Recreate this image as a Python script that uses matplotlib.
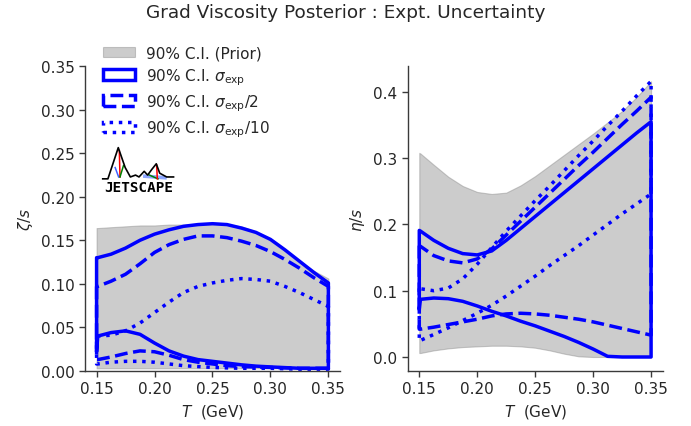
import numpy as np
import matplotlib
matplotlib.use("Agg")
import matplotlib.pyplot as plt
from matplotlib.patches import Patch

T = [0.15, 0.151, 0.1625, 0.175, 0.1875, 0.20, 0.2125, 0.225, 0.2375, 0.25,
     0.2625, 0.275, 0.2875, 0.30, 0.3125, 0.325, 0.3375, 0.35]

# zeta/s
zeta_prior_hi = [0.164, 0.164, 0.165, 0.166, 0.167, 0.167, 0.168, 0.168, 0.169, 0.169,
                 0.168, 0.166, 0.160, 0.151, 0.139, 0.126, 0.115, 0.106]
zeta_prior_lo = [0.003] * 18
zeta_s1_hi = [0.130, 0.130, 0.134, 0.141, 0.150, 0.157, 0.162, 0.166, 0.168, 0.169,
              0.168, 0.164, 0.159, 0.151, 0.139, 0.126, 0.113, 0.101]
zeta_s1_lo = [0.022, 0.040, 0.044, 0.046, 0.042, 0.032, 0.023, 0.017, 0.013, 0.011,
              0.009, 0.007, 0.0055, 0.0046, 0.0038, 0.003, 0.003, 0.003]
zeta_s2_hi = [0.097, 0.097, 0.103, 0.111, 0.123, 0.136, 0.145, 0.151, 0.155, 0.155,
              0.153, 0.149, 0.144, 0.137, 0.128, 0.118, 0.107, 0.097]
zeta_s2_lo = [0.013, 0.013, 0.016, 0.020, 0.023, 0.022, 0.018, 0.013, 0.010, 0.008,
              0.006, 0.005, 0.0045, 0.004, 0.0035, 0.003, 0.003, 0.003]
zeta_s10_hi = [0.040, 0.040, 0.041, 0.046, 0.055, 0.067, 0.079, 0.090, 0.097, 0.101,
               0.104, 0.106, 0.105, 0.103, 0.097, 0.090, 0.082, 0.074]
zeta_s10_lo = [0.008, 0.008, 0.010, 0.011, 0.011, 0.010, 0.008, 0.006, 0.005, 0.004,
               0.0035, 0.003, 0.003, 0.003, 0.0025, 0.002, 0.002, 0.002]

# eta/s
eta_prior_hi = [0.308, 0.307, 0.290, 0.272, 0.258, 0.249, 0.246, 0.248, 0.259, 0.273,
                0.289, 0.305, 0.321, 0.337, 0.354, 0.371, 0.392, 0.416]
eta_prior_lo = [0.006, 0.006, 0.010, 0.013, 0.015, 0.016, 0.017, 0.017, 0.016, 0.014,
                0.010, 0.005, 0.001, 0.0, 0.0, 0.0, 0.0, 0.0]
eta_s1_hi = [0.191, 0.190, 0.176, 0.164, 0.156, 0.154, 0.160, 0.176, 0.194, 0.212,
             0.230, 0.248, 0.266, 0.284, 0.302, 0.320, 0.338, 0.355]
eta_s1_lo = [0.072, 0.087, 0.089, 0.088, 0.084, 0.077, 0.069, 0.062, 0.054, 0.047,
             0.039, 0.031, 0.022, 0.012, 0.001, 0.0, 0.0, 0.0]
eta_s2_hi = [0.168, 0.167, 0.153, 0.145, 0.142, 0.148, 0.163, 0.184, 0.205, 0.226,
             0.247, 0.268, 0.289, 0.309, 0.330, 0.351, 0.371, 0.392]
eta_s2_lo = [0.042, 0.042, 0.045, 0.049, 0.053, 0.057, 0.062, 0.065, 0.066, 0.065,
             0.063, 0.060, 0.057, 0.053, 0.048, 0.043, 0.038, 0.033]
eta_s10_hi = [0.1035, 0.103, 0.100, 0.104, 0.118, 0.140, 0.165, 0.190, 0.213, 0.236,
              0.258, 0.281, 0.304, 0.326, 0.349, 0.371, 0.394, 0.416]
eta_s10_lo = [0.024, 0.025, 0.034, 0.044, 0.055, 0.066, 0.078, 0.092, 0.107, 0.122,
              0.138, 0.153, 0.168, 0.184, 0.200, 0.216, 0.231, 0.246]

x_ticks = [0.15, 0.20, 0.25, 0.30, 0.35]
legend_labels = ["90% C.I. (Prior)", r"90% C.I. $\sigma_{\rm exp}$",
                 r"90% C.I. $\sigma_{\rm exp}/2$", r"90% C.I. $\sigma_{\rm exp}/10$"]

plt.rcParams['font.family'] = 'DejaVu Sans'
plt.rcParams['mathtext.fontset'] = 'dejavusans'
txtc = '#262626'
spc = '#3a3a3a'
BLUE = '#0000ff'
fs = 11

fig = plt.figure(figsize=(6.91, 4.27), dpi=100)
ax1 = fig.add_axes([0.123, 0.129, 0.369, 0.714])
ax2 = fig.add_axes([0.590, 0.129, 0.369, 0.714])

styles = [('-', 2.5), ('--', 2.5), (':', 2.5)]


def draw(ax, prior, bands):
    ax.fill_between(T, prior[1], prior[0], facecolor='gray', alpha=0.4,
                    edgecolor='gray', linewidth=0.8)
    for (hi, lo), (ls, lw) in zip(bands, styles):
        ax.fill_between(T, lo, hi, facecolor='none', edgecolor=BLUE,
                        linestyle=ls, linewidth=lw)
    for s in ['top', 'right']:
        ax.spines[s].set_visible(False)
    for s in ['left', 'bottom']:
        ax.spines[s].set_color(spc)
        ax.spines[s].set_linewidth(1.0)
    ax.tick_params(direction='out', length=4, width=1.0, color=spc,
                   labelsize=fs, labelcolor=txtc)
    ax.set_xticks(x_ticks)
    ax.set_xticklabels([f"{v:.2f}" for v in x_ticks])
    ax.set_xlim(0.14, 0.36)
    ax.set_xlabel(r"$T$  (GeV)", fontsize=fs, color=txtc)


draw(ax1, (zeta_prior_hi, zeta_prior_lo),
     [(zeta_s1_hi, zeta_s1_lo), (zeta_s2_hi, zeta_s2_lo), (zeta_s10_hi, zeta_s10_lo)])
draw(ax2, (eta_prior_hi, eta_prior_lo),
     [(eta_s1_hi, eta_s1_lo), (eta_s2_hi, eta_s2_lo), (eta_s10_hi, eta_s10_lo)])

ax1.set_ylim(0, 0.35)
ax1.set_yticks([0, 0.05, 0.10, 0.15, 0.20, 0.25, 0.30, 0.35])
ax1.set_yticklabels([f"{v:.2f}" for v in ax1.get_yticks()])
ax1.set_ylabel(r"$\zeta/s$", fontsize=fs, color=txtc)
ax2.set_ylim(-0.021, 0.439)
ax2.set_yticks([0.0, 0.1, 0.2, 0.3, 0.4])
ax2.set_yticklabels([f"{v:.1f}" for v in ax2.get_yticks()])
ax2.set_ylabel(r"$\eta/s$", fontsize=fs, color=txtc)

handles = [Patch(facecolor='gray', alpha=0.4, edgecolor='gray', linewidth=0.8)]
for ls, lw in styles:
    handles.append(Patch(facecolor='none', edgecolor=BLUE, linestyle=ls, linewidth=lw))
leg = ax1.legend(handles, legend_labels, loc='upper left', bbox_to_anchor=(0.045, 1.088),
                 frameon=False, fontsize=fs, labelspacing=0.37, handlelength=2.1,
                 handletextpad=0.75, borderaxespad=0.0)
for t in leg.get_texts():
    t.set_color(txtc)

fig.suptitle("Grad Viscosity Posterior : Expt. Uncertainty", fontsize=13.3,
             color=txtc, y=0.99)

# JETSCAPE logo (drawn)
lax = fig.add_axes([101 / 691, 1 - 193 / 427, 76 / 691, 47 / 427])
lax.set_xlim(25, 245)
lax.set_ylim(140, 15)
lax.axis('off')
px = [30, 45, 75, 95, 110, 125, 135, 150, 160, 172, 185, 195, 215, 235]
py = [105, 105, 22, 75, 100, 95, 100, 85, 95, 80, 65, 90, 100, 100]
lax.plot([80, 78], [100, 30], color='red', lw=1.1)
lax.plot([66, 76], [75, 100], color='#4060ff', lw=1.1)
lax.plot([90, 80], [70, 100], color='green', lw=1.1)
lax.plot([152, 210], [98, 102], color='#7090ff', lw=2.6, alpha=0.8)
lax.plot([165, 190], [95, 105], color='green', lw=1.1)
lax.plot([186, 188], [68, 105], color='red', lw=1.1)
lax.plot(px, py, color='black', lw=1.2)
lax.text(135, 127, "JETSCAPE", ha='center', va='center', fontsize=10.3,
         fontweight='bold', family='DejaVu Sans Mono', color='black')

fig.savefig("out.png", dpi=100)
